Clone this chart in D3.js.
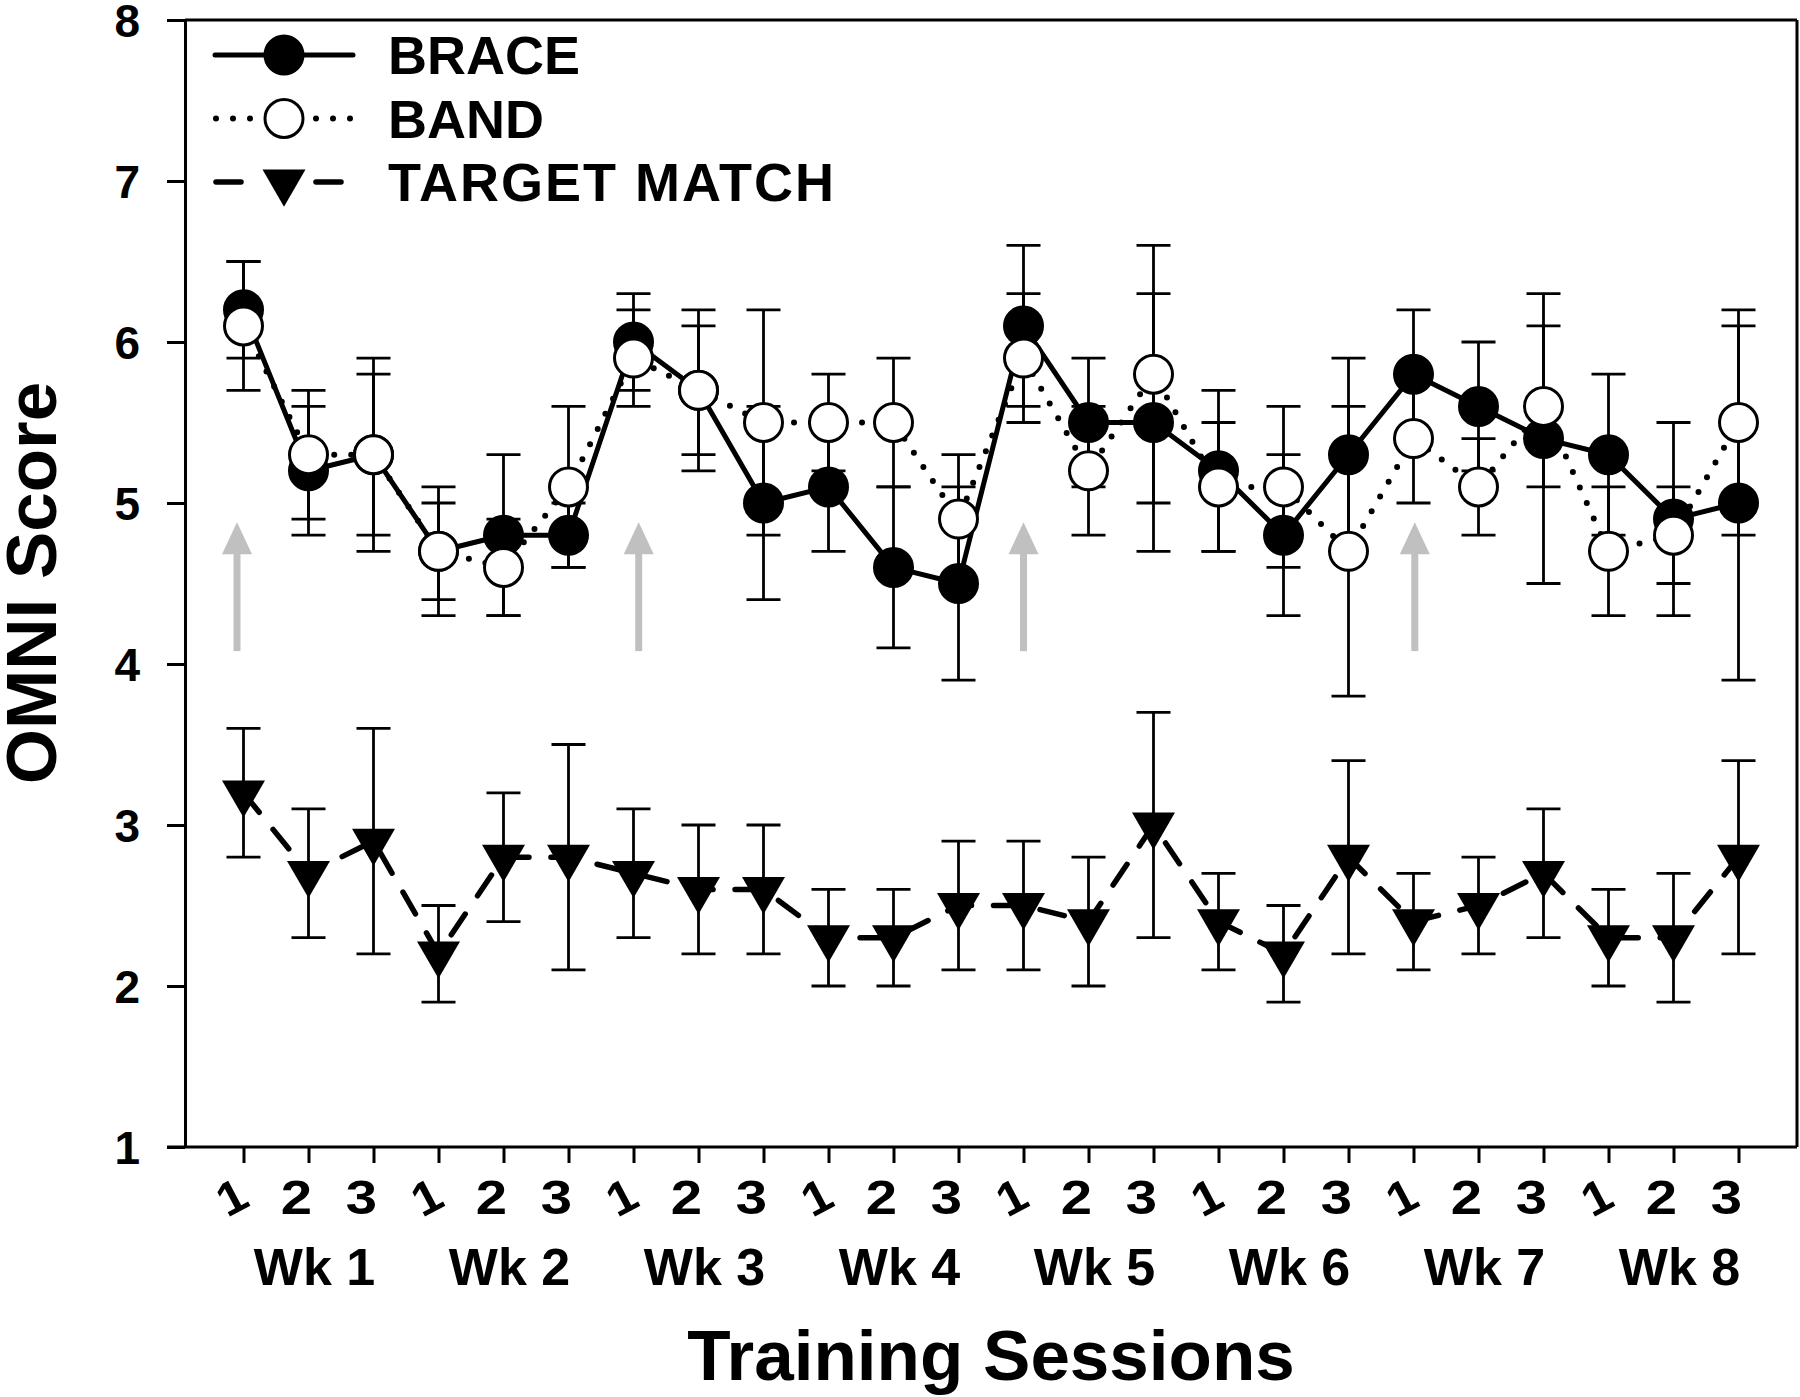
<!DOCTYPE html>
<html><head><meta charset="utf-8">
<script src="https://cdn.jsdelivr.net/npm/d3@7"></script>
<style>
body{margin:0;background:#fff}
svg{display:block}
text{font-family:"Liberation Sans",Arial,Helvetica,sans-serif;font-weight:bold;fill:#000}
</style>
</head><body>
<svg id="c" width="1800" height="1397"></svg>
<script>
// ---------- data ----------
const sessionLabels = ["1","2","3","1","2","3","1","2","3","1","2","3","1","2","3","1","2","3","1","2","3","1","2","3"];
const weekLabels = ["Wk 1","Wk 2","Wk 3","Wk 4","Wk 5","Wk 6","Wk 7","Wk 8"];
const yTicks = [1,2,3,4,5,6,7,8];
const seriesNames = ["BRACE","BAND","TARGET MATCH"];

const brace    = [6.2,5.2,5.3,4.7,4.8,4.8,6.0,5.7,5.0,5.1,4.6,4.5,6.1,5.5,5.5,5.2,4.8,5.3,5.8,5.6,5.4,5.3,4.9,5.0];
const braceErr = [0.3,0.4,0.6,0.4,0.5,0.2,0.3,0.5,0.6,0.4,0.5,0.6,0.5,0.4,0.8,0.5,0.5,0.6,0.4,0.4,0.9,0.5,0.6,1.1];
const band     = [6.1,5.3,5.3,4.7,4.6,5.1,5.9,5.7,5.5,5.5,5.5,4.9,5.9,5.2,5.8,5.1,5.1,4.7,5.4,5.1,5.6,4.7,4.8,5.5];
const bandErr  = [0.4,0.4,0.5,0.3,0.3,0.5,0.3,0.4,0.7,0.3,0.4,0.4,0.4,0.4,0.8,0.4,0.5,0.9,0.4,0.3,0.5,0.4,0.3,0.7];
const target   = [3.2,2.7,2.9,2.2,2.8,2.8,2.7,2.6,2.6,2.3,2.3,2.5,2.5,2.4,3.0,2.4,2.2,2.8,2.4,2.5,2.7,2.3,2.3,2.8];
const targetErr= [0.4,0.4,0.7,0.3,0.4,0.7,0.4,0.4,0.4,0.3,0.3,0.4,0.4,0.4,0.7,0.3,0.3,0.6,0.3,0.3,0.4,0.3,0.4,0.6];

// gray arrows (session index positions, y range in score units)
const arrowSessions = [-0.1, 6.08, 12, 18.02];
const arrowRange = [4.08, 4.88];

// ---------- layout ----------
const L = 185, R = 1797, T = 20, B = 1147;
const svg = d3.select("#c");
const x = d3.scaleLinear().domain([-0.9, 23.9]).range([L, R]);
const y = d3.scaleLinear().domain([1, 8]).range([B, T]);
const idx = d3.range(sessionLabels.length);

// frame top / right
svg.append("line").attr("x1", L).attr("x2", R).attr("y1", T).attr("y2", T)
  .attr("stroke", "#000").attr("stroke-width", 3);
svg.append("line").attr("x1", R).attr("x2", R).attr("y1", T).attr("y2", B)
  .attr("stroke", "#000").attr("stroke-width", 3);

// y axis
const yAx = svg.append("g").attr("transform", `translate(${L},0)`)
  .call(d3.axisLeft(y).tickValues(yTicks).tickSize(18).tickSizeOuter(0).tickPadding(27).tickFormat(d3.format("d")));
yAx.selectAll("path,line").attr("stroke", "#000").attr("stroke-width", 3);
yAx.selectAll("text").attr("font-size", 46).attr("font-family", null).attr("dy", "0.36em");

// x axis
const xAx = svg.append("g").attr("transform", `translate(0,${B})`)
  .call(d3.axisBottom(x).tickValues(idx).tickSize(16).tickSizeOuter(0).tickFormat(""));
xAx.select("path").attr("d", `M${L - 18},0H${R}`);
xAx.selectAll("path,line").attr("stroke", "#000").attr("stroke-width", 3);

// session digit labels
svg.append("g").selectAll("text").data(idx).join("text")
  .attr("transform", i => `translate(${x(i) - 12},${B + 50})` + (sessionLabels[i] === "1" ? " rotate(-28) scale(1.1,1.05)" : " scale(1.25,1.08)"))
  .attr("text-anchor", "middle").attr("dominant-baseline", "central")
  .attr("font-size", 45).text(i => sessionLabels[i]);

// week labels
svg.append("g").selectAll("text").data(weekLabels).join("text")
  .attr("x", (d, w) => x(w * 3 + 1) + 6).attr("y", B + 138)
  .attr("text-anchor", "middle").attr("font-size", 52).text(d => d);

// axis titles
svg.append("text").attr("x", (L + R) / 2).attr("y", 1380).attr("text-anchor", "middle")
  .attr("font-size", 71).text("Training Sessions");
svg.append("text").attr("transform", "translate(56,583) rotate(-90)").attr("text-anchor", "middle")
  .attr("font-size", 71).text("OMNI Score");

// gray arrows
const arrowG = svg.append("g");
arrowSessions.forEach(s => {
  const ax = x(s), tip = y(arrowRange[1]), bot = y(arrowRange[0]);
  arrowG.append("line").attr("x1", ax).attr("x2", ax).attr("y1", bot).attr("y2", tip + 20)
    .attr("stroke", "#c0c0c0").attr("stroke-width", 7);
  arrowG.append("path").attr("d", `M${ax},${tip}L${ax - 15},${tip + 32}L${ax + 15},${tip + 32}Z`).attr("fill", "#c0c0c0");
});

// series definitions
const series = [
  {name: seriesNames[0], v: brace, e: braceErr, dash: null, width: 5, cap: "butt", sym: "circle", fill: "#000", ls: 0},
  {name: seriesNames[1], v: band, e: bandErr, dash: "0 17", width: 6, cap: "round", sym: "circle", fill: "#fff", ls: 0},
  {name: seriesNames[2], v: target, e: targetErr, dash: "25 22", width: 5.5, cap: "round", sym: "triangle", fill: "#000", ls: 2}
];

const line = d3.line().x((d, i) => x(i)).y(d => y(d));

// lines
series.forEach(s => {
  svg.append("path").attr("d", line(s.v)).attr("fill", "none").attr("stroke", "#000")
    .attr("stroke-width", s.width).attr("stroke-dasharray", s.dash).attr("stroke-linecap", s.cap)
    .attr("stroke-linejoin", "round");
});

// error bars
const capW = 17;
series.forEach(s => {
  const g = svg.append("g").attr("stroke", "#000").attr("stroke-width", 2.8);
  idx.forEach(i => {
    const cx = x(i), hi = y(s.v[i] + s.e[i]), lo = y(s.v[i] - s.e[i]);
    g.append("line").attr("x1", cx).attr("x2", cx).attr("y1", hi).attr("y2", lo);
    g.append("line").attr("x1", cx - capW).attr("x2", cx + capW).attr("y1", hi).attr("y2", hi);
    g.append("line").attr("x1", cx - capW).attr("x2", cx + capW).attr("y1", lo).attr("y2", lo);
  });
});

// markers
const triPath = d3.symbol().type(d3.symbolTriangle).size(800)();
function drawSym(g, s, cx, cy) {
  if (s.sym === "circle") {
    g.append("circle").attr("cx", cx).attr("cy", cy).attr("r", 19)
      .attr("fill", s.fill).attr("stroke", "#000").attr("stroke-width", 3);
  } else {
    g.append("path").attr("d", triPath).attr("transform", `translate(${cx},${cy}) rotate(180)`)
      .attr("fill", "#000");
  }
}
series.forEach(s => {
  const g = svg.append("g");
  idx.forEach(i => drawSym(g, s, x(i), y(s.v[i])));
});

// legend
const legRows = [55, 118.5, 182];
series.forEach((s, k) => {
  const g = svg.append("g");
  const ly = legRows[k];
  if (s.dash) {
    g.append("line").attr("x1", 216).attr("x2", 252).attr("y1", ly).attr("y2", ly)
      .attr("stroke", "#000").attr("stroke-width", s.width).attr("stroke-dasharray", s.dash).attr("stroke-linecap", s.cap);
    g.append("line").attr("x1", 316).attr("x2", 352).attr("y1", ly).attr("y2", ly)
      .attr("stroke", "#000").attr("stroke-width", s.width).attr("stroke-dasharray", s.dash).attr("stroke-linecap", s.cap);
  } else {
    g.append("line").attr("x1", 215).attr("x2", 353).attr("y1", ly).attr("y2", ly)
      .attr("stroke", "#000").attr("stroke-width", s.width).attr("stroke-linecap", "round");
  }
  drawSym(g, s, 284, ly);
  g.append("text").attr("x", 388).attr("y", ly).attr("dy", "0.36em").attr("font-size", 54)
    .attr("letter-spacing", s.ls).text(s.name);
});
</script>
</body></html>
